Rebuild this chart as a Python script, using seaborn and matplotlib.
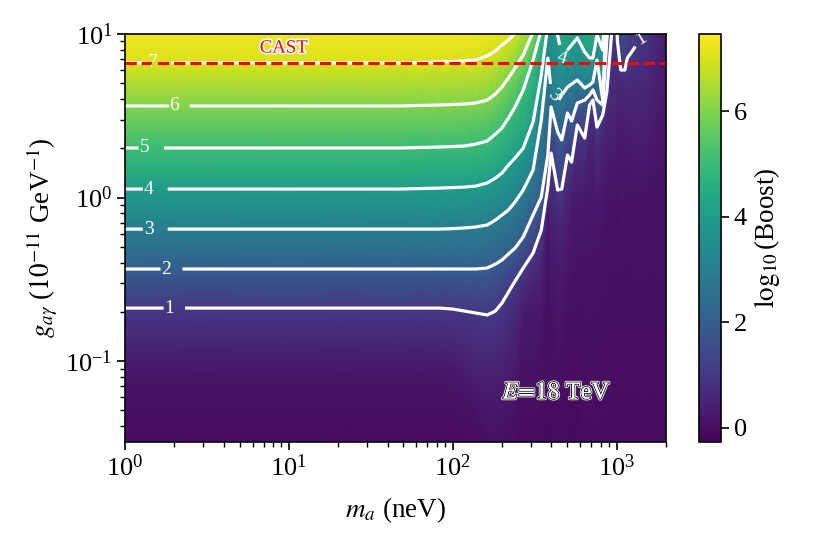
import numpy as np
import matplotlib
matplotlib.use("Agg")
import matplotlib.pyplot as plt
import matplotlib.patheffects as pe
import seaborn as sns

# log10(Boost) levels, one column of the table below per level
boost_levels = [-0.1, 0.1, 0.3, 0.6, 1, 2, 3, 4, 5, 6, 7, 8]

# log10(m_a / neV)
log_mass = [0.00, 1.00, 1.68, 1.92, 2.00, 2.07, 2.14, 2.21, 2.26, 2.30, 2.34, 2.38, 2.43, 2.49,
            2.54, 2.58, 2.60, 2.64, 2.665, 2.70, 2.725, 2.76, 2.805, 2.835, 2.855, 2.88, 2.915,
            2.94, 2.97, 2.99, 3.005, 3.025, 3.05, 3.065, 3.10, 3.14, 3.18, 3.215, 3.301]

# log10(g) where the boost reaches each level, one row per mass
log_g_at_level = [
    [-1.67, -1.14, -1.0, -0.86, -0.676, -0.437, -0.193, 0.052, 0.303, 0.56, 0.823, 1.086],
    [-1.67, -1.14, -1.0, -0.86, -0.676, -0.437, -0.193, 0.052, 0.303, 0.56, 0.823, 1.086],
    [-1.67, -1.14, -1.0, -0.86, -0.676, -0.437, -0.193, 0.052, 0.303, 0.56, 0.823, 1.086],
    [-1.67, -1.14, -1.0, -0.86, -0.676, -0.437, -0.193, 0.058, 0.309, 0.566, 0.829, 1.086],
    [-1.67, -1.2, -1.02, -0.87, -0.682, -0.437, -0.19, 0.061, 0.312, 0.569, 0.832, 1.09],
    [-1.67, -1.24, -1.09, -0.90, -0.694, -0.437, -0.186, 0.064, 0.315, 0.572, 0.835, 1.098],
    [-1.67, -1.3, -1.15, -0.95, -0.706, -0.437, -0.18, 0.07, 0.327, 0.578, 0.841, 1.11],
    [-1.67, -1.42, -1.21, -0.99, -0.718, -0.431, -0.168, 0.089, 0.346, 0.596, 0.866, 1.147],
    [-1.67, -1.42, -1.18, -0.96, -0.694, -0.407, -0.138, 0.119, 0.388, 0.633, 0.896, 1.2],
    [-1.67, -1.42, -1.15, -0.93, -0.645, -0.382, -0.107, 0.15, 0.425, 0.676, 0.933, 1.269],
    [-1.67, -1.36, -1.1, -0.85, -0.578, -0.345, -0.076, 0.199, 0.486, 0.731, 0.963, 1.3],
    [-1.67, -1.30, -1.06, -0.75, -0.511, -0.309, -0.027, 0.242, 0.554, 0.792, 1.006, 1.33],
    [-1.67, -0.99, -0.72, -0.57, -0.431, -0.241, 0.046, 0.303, 0.658, 0.872, 1.147, 1.453],
    [-1.67, -1.05, -0.63, -0.50, -0.339, -0.107, 0.168, 0.462, 0.841, 1.012, 1.269, 1.575],
    [-1.67, -0.93, -0.63, -0.38, -0.199, 0.003, 0.474, 0.749, 1.025, 1.269, 1.514, 1.758],
    [-1.67, -0.32, -0.08, 0.015, 0.064, 0.26, 0.853, 1.055, 1.33, 1.575, 1.758, 1.942],
    [-1.67, -0.63, -0.26, -0.015, 0.272, 0.554, 0.645, 1.147, 1.391, 1.636, 1.82, 2.0],
    [-1.67, -0.93, -0.38, -0.107, 0.046, 0.401, 0.584, 0.994, 1.33, 1.575, 1.82, 2.06],
    [-1.67, -0.87, -0.44, -0.14, 0.052, 0.352, 0.627, 0.853, 1.269, 1.575, 1.82, 2.06],
    [-1.67, -0.63, -0.26, 0.046, 0.26, 0.517, 0.676, 0.902, 1.3, 1.575, 1.82, 2.06],
    [-1.67, -0.50, -0.015, 0.1, 0.217, 0.468, 0.694, 0.933, 1.3, 1.575, 1.82, 2.06],
    [-1.67, -0.40, -0.015, 0.229, 0.444, 0.578, 0.719, 0.976, 1.35, 1.575, 1.82, 2.06],
    [-2.5, -0.32, 0.046, 0.199, 0.364, 0.596, 0.67, 0.89, 1.3, 1.575, 1.82, 2.06],
    [-2.5, -0.38, 0.107, 0.352, 0.566, 0.627, 0.688, 0.853, 1.25, 1.575, 1.82, 2.06],
    [-2.5, -0.38, 0.107, 0.413, 0.596, 0.658, 0.706, 0.853, 1.25, 1.575, 1.82, 2.06],
    [-2.5, -0.30, 0.0, 0.229, 0.431, 0.596, 0.841, 0.994, 1.3, 1.575, 1.82, 2.06],
    [-2.5, -0.25, 0.107, 0.382, 0.505, 0.566, 0.596, 0.902, 1.3, 1.575, 1.82, 2.06],
    [-2.5, -0.1, 0.2, 0.5, 0.645, 0.963, 1.208, 1.453, 1.7, 1.9, 2.0, 2.1],
    [-2.5, 0.0, 0.3, 0.6, 1.012, 1.33, 1.575, 1.82, 1.95, 2.0, 2.05, 2.1],
    [-2.5, -0.05, 0.25, 0.55, 1.269, 1.514, 1.7, 1.82, 1.95, 2.0, 2.05, 2.1],
    [-2.5, 0.05, 0.35, 0.7, 0.951, 1.391, 1.6, 1.8, 1.95, 2.0, 2.05, 2.1],
    [-2.5, -0.1, 0.4, 0.7, 0.78, 1.269, 1.5, 1.8, 1.95, 2.0, 2.05, 2.1],
    [-2.5, -0.05, 0.4, 0.68, 0.78, 1.269, 1.5, 1.8, 1.95, 2.0, 2.05, 2.1],
    [-2.5, 0.0, 0.35, 0.68, 0.853, 1.33, 1.6, 1.8, 1.95, 2.0, 2.05, 2.1],
    [-2.5, 0.05, 0.3, 0.68, 0.902, 1.45, 1.7, 1.85, 1.95, 2.0, 2.05, 2.1],
    [-2.5, 0.0, 0.3, 0.7, 0.963, 1.636, 1.8, 1.9, 1.95, 2.0, 2.05, 2.1],
    [-2.5, 0.05, 0.3, 0.72, 1.0, 1.76, 1.85, 1.9, 1.95, 2.0, 2.05, 2.1],
    [-2.5, 0.1, 0.4, 0.85, 1.27, 1.82, 1.9, 1.95, 2.0, 2.03, 2.06, 2.1],
    [-2.5, 0.2, 0.7, 1.39, 1.6, 2.0, 2.03, 2.06, 2.08, 2.1, 2.12, 2.14],
]

contour_levels = [1, 2, 3, 4, 5, 6, 7]
cbar_ticks = [0, 2, 4, 6]
cast_limit = 6.65

# where the contour labels sit (m_a, g)
label_spots = [(1.855, 0.212), (1.78, 0.365), (1.4, 0.62), (1.4, 1.12), (1.32, 2.0),
               (2.0, 3.6), (1.48, 6.65), (1430, 8.7), (415, 4.25), (470, 6.75)]

sns.set_theme(style="ticks", context="notebook")
plt.rcParams["font.family"] = ["Liberation Serif", "DejaVu Serif"]
plt.rcParams["mathtext.fontset"] = "stix"
plt.rcParams["axes.edgecolor"] = "black"
plt.rcParams["xtick.color"] = "black"
plt.rcParams["ytick.color"] = "black"
plt.rcParams["text.color"] = "black"
plt.rcParams["axes.labelcolor"] = "black"

mass = 10 ** np.array(log_mass)
g = 10 ** np.array(log_g_at_level)
X = np.tile(mass[:, None], (1, len(boost_levels)))
Z = np.tile(np.array(boost_levels, dtype=float), (len(mass), 1))

fig = plt.figure(figsize=(8.22, 5.48), dpi=100)
ax = fig.add_axes([125 / 822, 1 - 442 / 548, 541 / 822, 408 / 548])
cax = fig.add_axes([699 / 822, 1 - 442 / 548, 22 / 822, 408 / 548])

ax.set_xscale("log")
ax.set_yscale("log")
mesh = ax.pcolormesh(X, g, Z, shading="gouraud", cmap=sns.color_palette("viridis", as_cmap=True),
                     vmin=-0.27, vmax=7.47, rasterized=True)
cs = ax.contour(X, g, Z, levels=contour_levels, colors="white", linewidths=2.3)
ax.clabel(cs, fmt="%d", fontsize=14, inline=True, inline_spacing=2, manual=label_spots)

ax.axhline(cast_limit, color="red", linestyle="--", linewidth=2.2)
ax.text(9.3, 8.2, "CAST", color="red", fontsize=13.5, ha="center", va="center",
        path_effects=[pe.withStroke(linewidth=2.5, foreground="white")])
ax.text(430, 0.0637, r"$E\!=\!18$ TeV", color="white", fontsize=17.5, ha="center", va="center",
        path_effects=[pe.withStroke(linewidth=2.5, foreground="white"),
                      pe.withStroke(linewidth=1.3, foreground="black"), pe.Normal()])

ax.set_xlim(1, 2000)
ax.set_ylim(0.032, 10)
ax.set_xlabel(r"$m_a$ (neV)", fontsize=19.5, labelpad=10)
ax.set_ylabel(r"$g_{a\gamma}$ ($10^{-11}$ GeV$^{-1}$)", fontsize=19.5, labelpad=4)
ax.tick_params(which="major", length=5.5, width=1.2, labelsize=19, direction="out")
ax.tick_params(which="minor", length=3.3, width=1, direction="out")
for spine in ax.spines.values():
    spine.set_linewidth(1.2)
    spine.set_visible(True)

cbar = fig.colorbar(mesh, cax=cax, ticks=cbar_ticks)
cbar.set_label(r"$\log_{10}$(Boost)", fontsize=19.5)
cbar.ax.tick_params(length=5.5, width=1.2, labelsize=19)
cbar.outline.set_linewidth(1.2)

fig.savefig("out.png", dpi=100)
